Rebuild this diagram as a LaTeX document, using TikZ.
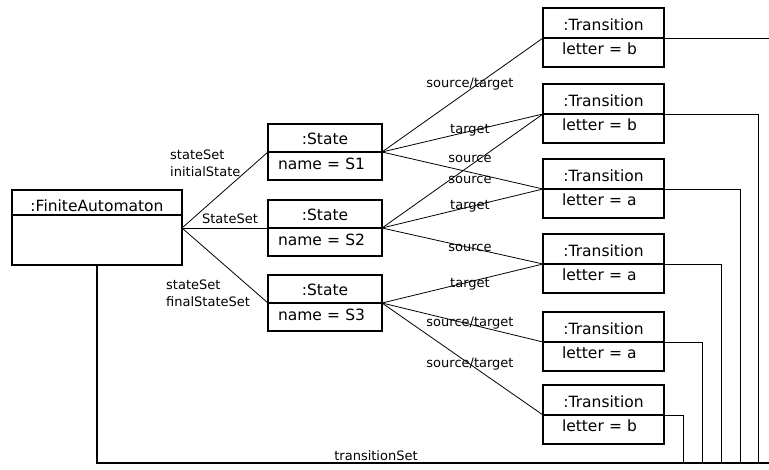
\documentclass[tikz,border=0pt]{standalone}
\usepackage{fontspec}
\setmainfont{DejaVu Sans}
\usetikzlibrary{positioning}

\newcommand{\boxfont}{\fontsize{15.5}{18}\selectfont}
\newcommand{\linkfont}{\fontsize{13}{17}\selectfont}

\begin{document}
\begin{tikzpicture}
[
	              x = 1pt,
	              y = -1pt,
	  node distance = 0pt,
	     part/.style = { draw=black, line width=1.1pt, inner sep=0pt, outer sep=0pt, font=\boxfont },
	     head/.style = { part, anchor=north west, text depth=0pt },
	   fahead/.style = { head, minimum width=170pt, minimum height=25pt, text height=18.4pt },
	   faattr/.style = { part, minimum width=170pt, minimum height=50pt },
	statehead/.style = { head, minimum width=114pt, minimum height=28pt, text height=12.6pt },
	stateattr/.style = { part, text width=94pt, inner xsep=10pt, align=left, minimum height=28pt,
	                     text height=11.3pt, text depth=5.3pt },
	transhead/.style = { head, minimum width=121pt, minimum height=30pt, text height=14.8pt },
	transattr/.style = { part, text width=83pt, inner xsep=19pt, align=left, minimum height=29pt,
	                     text height=11.3pt, text depth=8.3pt },
	     link/.style = { draw=black, line width=0.8pt },
	linklabel/.style = { font=\linkfont, inner sep=0pt, align=left },
	      bus/.style = { draw=black, line width=2pt },
	     drop/.style = { draw=black, line width=0.8pt }
]
	\useasboundingbox (0,0) rectangle (769,469);

	% objects
	\node (fa) at (12,190) [fahead] {:FiniteAutomaton};
	\node (faattr) [faattr, below=of fa] {};

	\node (s1) at (268,124) [statehead] {:State};
	\node (s1attr) [stateattr, below=of s1] {name = S1};
	\node (s2) at (268,200) [statehead] {:State};
	\node (s2attr) [stateattr, below=of s2] {name = S2};
	\node (s3) at (268,275) [statehead] {:State};
	\node (s3attr) [stateattr, below=of s3] {name = S3};

	\node (t1) at (543,8)   [transhead] {:Transition};
	\node (t1attr) [transattr, below=of t1] {letter = b};
	\node (t2) at (543,84)  [transhead] {:Transition};
	\node (t2attr) [transattr, below=of t2] {letter = b};
	\node (t3) at (543,159) [transhead] {:Transition};
	\node (t3attr) [transattr, below=of t3] {letter = a};
	\node (t4) at (543,234) [transhead] {:Transition};
	\node (t4attr) [transattr, below=of t4] {letter = a};
	\node (t5) at (543,312) [transhead] {:Transition};
	\node (t5attr) [transattr, below=of t5] {letter = a};
	\node (t6) at (543,385) [transhead] {:Transition};
	\node (t6attr) [transattr, below=of t6] {letter = b};

	% automaton to states
	\coordinate (hub) at (faattr.east |- s2.south);
	\draw [link] (hub) -- (s1.south west);
	\draw [link] (hub) -- (s2.south west);
	\draw [link] (hub) -- (s3.south west);
	\node (l1) at (170,163) [linklabel, anchor=west] {stateSet\\initialState};
	\node (l2) at (230,219) [linklabel] {StateSet};
	\node (l3) at (166,293) [linklabel, anchor=west] {stateSet\\finalStateSet};

	% states to transitions
	\draw [link] (s1.south east) -- (t1.south west);
	\draw [link] (s1.south east) -- (t2.south west);
	\draw [link] (s1.south east) -- (t3.south west);
	\draw [link] (s2.south east) -- (t2.south west);
	\draw [link] (s2.south east) -- (t3.south west);
	\draw [link] (s2.south east) -- (t4.south west);
	\draw [link] (s3.south east) -- (t4.south west);
	\draw [link] (s3.south east) -- (t5.south west);
	\draw [link] (s3.south east) -- (t6.south west);
	\node (r1) at (470,84)  [linklabel] {source/target};
	\node (r2) at (470,130) [linklabel] {target};
	\node (r3) at (470,159) [linklabel] {source};
	\node (r4) at (470,180) [linklabel] {source};
	\node (r5) at (470,206) [linklabel] {target};
	\node (r6) at (470,248) [linklabel] {source};
	\node (r7) at (470,284) [linklabel] {target};
	\node (r8) at (470,323) [linklabel] {source/target};
	\node (r9) at (470,364) [linklabel] {source/target};

	% transition set
	\coordinate (corner) at (faattr.south |- 0,463);
	\coordinate (busend) at (769,463);
	\coordinate (d2) at (758,463);
	\coordinate (d3) at (740,463);
	\coordinate (d4) at (721,463);
	\coordinate (d5) at (702,463);
	\coordinate (d6) at (683,463);
	\draw [bus] (faattr.south) -- (corner) -- (busend);
	\node (ts) at (376,456) [linklabel] {transitionSet};
	\draw [drop] (t1.south east) -- (t1.south east -| busend);
	\draw [drop] (t2.south east) -| (d2);
	\draw [drop] (t3.south east) -| (d3);
	\draw [drop] (t4.south east) -| (d4);
	\draw [drop] (t5.south east) -| (d5);
	\draw [drop] (t6.south east) -| (d6);

\end{tikzpicture}
\end{document}
